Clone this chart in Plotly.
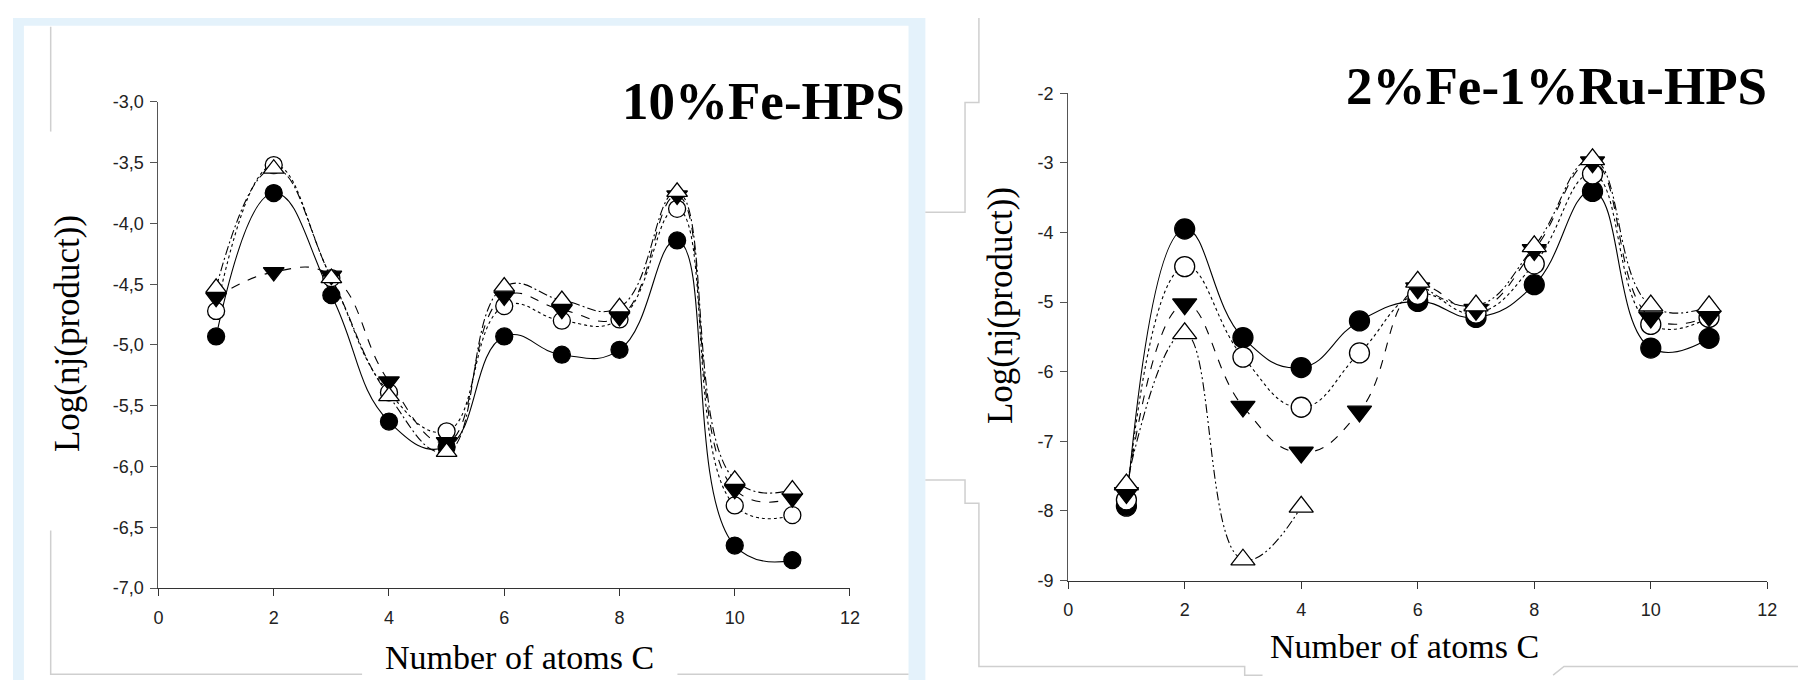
import plotly.graph_objects as go

W, H = 1806, 682

# ---------------- data ----------------
carbon_atoms = [1, 2, 3, 4, 5, 6, 7, 8, 9, 10, 11]

# 10%Fe-HPS panel
fe_filled_circle = [-4.93, -3.75, -4.59, -5.63, -5.84, -4.93, -5.08, -5.04, -4.14, -6.65, -6.77]
fe_open_circle = [-4.72, -3.52, -4.45, -5.39, -5.71, -4.68, -4.80, -4.79, -3.88, -6.32, -6.40]
fe_filled_tri_down = [-4.61, -4.40, -4.43, -5.30, -5.80, -4.60, -4.71, -4.77, -3.77, -6.19, -6.26]
fe_open_tri_up = [-4.53, -3.55, -4.45, -5.42, -5.88, -4.52, -4.63, -4.69, -3.74, -6.11, -6.19]

# 2%Fe-1%Ru-HPS panel
feru_filled_circle = [-7.93, -3.95, -5.51, -5.94, -5.27, -4.99, -5.22, -4.75, -3.41, -5.66, -5.52]
feru_open_circle = [-7.84, -4.49, -5.79, -6.51, -5.73, -4.89, -5.16, -4.45, -3.16, -5.32, -5.22]
feru_filled_tri_down = [-7.74, -5.03, -6.50, -7.16, -6.57, -4.80, -5.11, -4.25, -2.99, -5.22, -5.20]
feru_open_tri_up = [-7.62, -5.45, -8.70, -7.94, None, -4.71, -5.05, -4.20, -2.95, -5.05, -5.06]

x_ticks = [0, 2, 4, 6, 8, 10, 12]
x_ticktext = ["0", "2", "4", "6", "8", "10", "12"]
left_y_ticks = [-3.0, -3.5, -4.0, -4.5, -5.0, -5.5, -6.0, -6.5, -7.0]
left_y_ticktext = ["-3,0", "-3,5", "-4,0", "-4,5", "-5,0", "-5,5", "-6,0", "-6,5", "-7,0"]
right_y_ticks = [-2, -3, -4, -5, -6, -7, -8, -9]
right_y_ticktext = ["-2", "-3", "-4", "-5", "-6", "-7", "-8", "-9"]

left_title = "10%Fe-HPS"
right_title = "2%Fe-1%Ru-HPS"
x_title = "Number of atoms C"
y_title = "Log(nj(product))"


def fx(px):
    return px / W


def fy(py):
    return 1 - py / H


fig = go.Figure()

styles = [
    # (symbol, fill, dash)
    ("circle", "black", "solid"),
    ("circle", "white", "dot"),
    ("triangle-down", "black", "dash"),
    ("triangle-up", "white", None),
]

panels = [
    ("x", "y", [fe_filled_circle, fe_open_circle, fe_filled_tri_down, fe_open_tri_up], 17, "9px,3px,2px,3px"),
    ("x2", "y2", [feru_filled_circle, feru_open_circle, feru_filled_tri_down, feru_open_tri_up], 20,
     "9px,3px,2px,3px,2px,3px"),
]

for xa, ya, series, msize, dd in panels:
    # lines first
    for (sym, fill, dash), vals in zip(styles, series):
        fig.add_trace(go.Scatter(
            x=carbon_atoms, y=vals, mode="lines", xaxis=xa, yaxis=ya,
            line=dict(color="black", width=1.1, shape="spline", smoothing=1.3,
                      dash=dash if dash else dd),
            connectgaps=False, hoverinfo="skip", showlegend=False,
        ))
    # markers on top
    for (sym, fill, dash), vals in zip(styles, series):
        sz = msize if sym == "circle" else msize + 1
        fig.add_trace(go.Scatter(
            x=carbon_atoms, y=vals, mode="markers", xaxis=xa, yaxis=ya,
            marker=dict(symbol=sym, size=sz, color=fill, line=dict(color="black", width=1.3)),
            showlegend=False,
        ))

tickfont = dict(family="Liberation Sans Narrow, Liberation Sans, Arial", size=18, color="#222")
common_x = dict(range=[0, 12], tickvals=x_ticks, ticktext=x_ticktext, ticks="outside", ticklen=7,
                tickcolor="#333", showline=True, linecolor="#333", linewidth=1.3, showgrid=False,
                zeroline=False, tickfont=tickfont, ticklabelstandoff=6, fixedrange=True)
common_y = dict(ticks="outside", ticklen=7, tickcolor="#555", showline=True, linecolor="#555",
                linewidth=1.3, showgrid=False, zeroline=False, tickfont=tickfont, ticklabelstandoff=3,
                fixedrange=True)

fig.update_layout(
    width=W, height=H, autosize=False,
    margin=dict(l=0, r=0, t=0, b=0),
    paper_bgcolor="white", plot_bgcolor="rgba(0,0,0,0)",
    showlegend=False,
    xaxis=dict(domain=[fx(146.7), fx(844)], anchor="y", **common_x),
    yaxis=dict(domain=[fy(587.3), fy(86.4)], anchor="x", range=[-7, -3],
               tickvals=left_y_ticks, ticktext=left_y_ticktext, **common_y),
    xaxis2=dict(domain=[fx(1064), fx(1769)], anchor="y2", **common_x),
    yaxis2=dict(domain=[fy(579.6), fy(77.5)], anchor="x2", range=[-9, -2],
                tickvals=right_y_ticks, ticktext=right_y_ticktext, **common_y),
)

serif = "Liberation Serif, Times New Roman, serif"
ann = [
    dict(text="<b>" + left_title + "</b>", x=fx(757), y=fy(86), font=dict(family=serif, size=53, color="black")),
    dict(text="<b>" + right_title + "</b>", x=fx(1556), y=fy(70), font=dict(family=serif, size=53, color="black")),
    dict(text=x_title, x=fx(511), y=fy(659), font=dict(family=serif, size=34, color="black")),
    dict(text=x_title, x=fx(1403), y=fy(647), font=dict(family=serif, size=34, color="black")),
    dict(text=y_title, x=fx(55), y=fy(325), textangle=-90, font=dict(family=serif, size=35, color="black")),
    dict(text=y_title, x=fx(996), y=fy(296), textangle=-90, font=dict(family=serif, size=35, color="black")),
]
for a in ann:
    fig.add_annotation(xref="paper", yref="paper", showarrow=False, xanchor="center", yanchor="middle", **a)

# background decorations (slide frame)
shapes = [
    dict(type="rect", x0=fx(0), x1=fx(920), y0=fy(682), y1=fy(0), fillcolor="#e4f2fb", line=dict(width=0)),
    dict(type="rect", x0=fx(11), x1=fx(903), y0=fy(682), y1=fy(8), fillcolor="white", line=dict(width=0)),
]
gray = dict(color="#cfcfcf", width=1.5)


def path(points):
    s = "M " + " L ".join(f"{fx(a):.5f},{fy(b):.5f}" for a, b in points)
    return s


for pts in [
    [(38, 9), (38, 117)],
    [(38, 528), (38, 676), (352, 676)],
    [(670, 676), (903, 676)],
    [(974, 0), (974, 87), (960, 87), (960, 200), (920, 200)],
    [(920, 476), (960, 476), (960, 500), (974, 500), (974, 668), (1242, 668), (1242, 677), (1260, 677)],
    [(1553, 677), (1564, 668), (1806, 668)],
]:
    shapes.append(dict(type="path", path=path(pts), line=gray, xref="paper", yref="paper"))

for s in shapes:
    s.setdefault("xref", "paper")
    s.setdefault("yref", "paper")
    s["layer"] = "below"
fig.update_layout(shapes=shapes)

fig.write_html("out.html")
